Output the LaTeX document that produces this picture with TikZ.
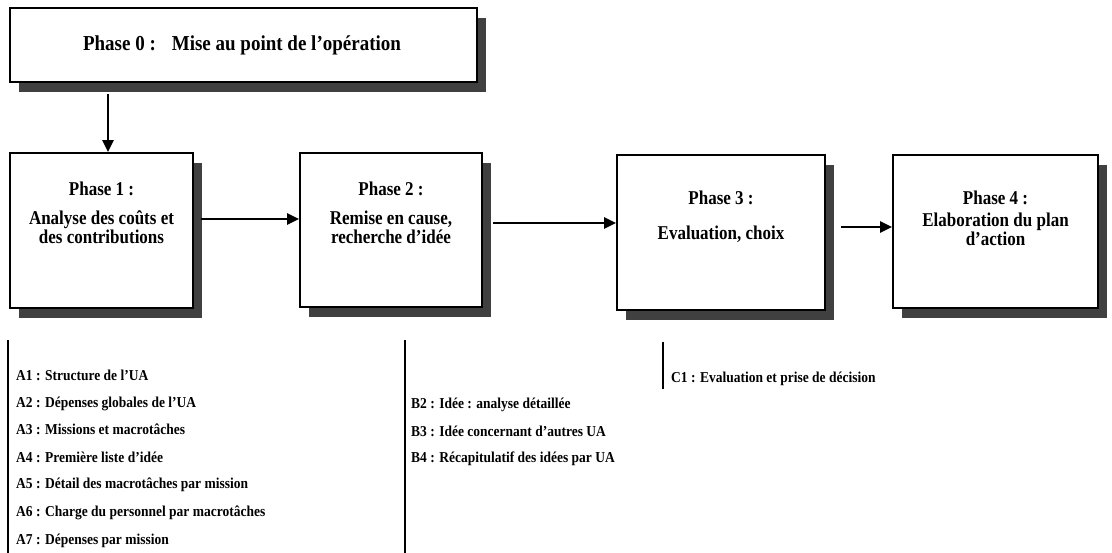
\documentclass[tikz,border=0pt]{standalone}
\usepackage{fontspec}
\setmainfont{Liberation Serif}
\usetikzlibrary{arrows.meta,positioning,shadows}

\begin{document}
\begin{tikzpicture}[x=1pt,y=-1pt]
\tikzstyle{every node}+=[inner sep=0pt]
\tikzstyle{phasebox}=[draw=black,line width=1.7pt,fill=white,
  drop shadow={shadow xshift=9pt,shadow yshift=-10pt,fill=black!75,opacity=1}]
\tikzstyle{phasetext}=[align=center,font=\fontsize{17}{16}\selectfont\bfseries,yscale=1.15,transform shape]
\tikzstyle{flow}=[line width=2.2pt,-{Triangle[length=12pt,width=11pt]}]
\tikzstyle{bar}=[line width=1.6pt]
\tikzstyle{item}=[anchor=base west,font=\fontsize{13.5}{15}\selectfont\bfseries,yscale=1.12,transform shape]
\useasboundingbox [fill=white] (0,0) rectangle (1112,553);
% phase 0
\node [phasebox,minimum width=467,minimum height=74] (p0) at (243.5,45) {};
\node [font=\fontsize{19}{20}\selectfont\bfseries,yscale=1.12,transform shape] (p0t) at (242,45) {Phase 0 :\hspace{16pt}Mise au point de l'opération};
% phases 1 to 4
\node [phasebox,minimum width=183,minimum height=155] (p1) at (101.5,230.5) {};
\node [phasetext,anchor=north] (p1t) at ([yshift=-30pt]p1.north) {Phase 1 :\\[9pt]Analyse des coûts et\\des contributions};
\node [phasebox,minimum width=182,minimum height=154] (p2) at (391,230) {};
\node [phasetext,anchor=north] (p2t) at ([yshift=-30pt]p2.north) {Phase 2 :\\[9pt]Remise en cause,\\recherche d'idée};
\node [phasebox,minimum width=208,minimum height=155] (p3) at (721,232.5) {};
\node [phasetext,anchor=north] (p3t) at ([yshift=-37pt]p3.north) {Phase 3 :\\[14pt]Evaluation, choix};
\node [phasebox,minimum width=205,minimum height=153] (p4) at (995.5,231.5) {};
\node [phasetext,anchor=north] (p4t) at ([yshift=-37pt]p4.north) {Phase 4 :\\[3pt]Elaboration du plan\\d'action};
% arrows
\draw [flow] ([xshift=6.5pt]p1.north |- p0.south) ++(0,11) -- ([xshift=6.5pt]p1.north);
\draw [flow] ([xshift=7pt,yshift=11.5pt]p1.east) -- ([yshift=11.5pt]p1.east -| p2.west);
\draw [flow] ([xshift=10pt,yshift=7pt]p2.east) -- ([yshift=7pt]p2.east -| p3.west);
\draw [flow] ([xshift=15pt,yshift=5.5pt]p3.east) -- ([yshift=5.5pt]p3.east -| p4.west);
% lists
\draw [bar] (8,340) -- (8,553);
\draw [bar] (405,340) -- (405,553);
\draw [bar] (663,342) -- (663,389);
\node [item] (a1) at (16,381) {A1 : Structure de l'UA};
\node [item] (a2) at (16,408) {A2 : Dépenses globales de l'UA};
\node [item] (a3) at (16,435) {A3 : Missions et macrotâches};
\node [item] (a4) at (16,462) {A4 : Première liste d'idée};
\node [item] (a5) at (16,489) {A5 : Détail des macrotâches par mission};
\node [item] (a6) at (16,516) {A6 : Charge du personnel par macrotâches};
\node [item] (a7) at (16,544) {A7 : Dépenses par mission};
\node [item] (b2) at (411,409) {B2 : Idée : analyse détaillée};
\node [item] (b3) at (411,436) {B3 : Idée concernant d'autres UA};
\node [item] (b4) at (411,463) {B4 : Récapitulatif des idées par UA};
\node [item] (c1) at (671,383) {C1 : Evaluation et prise de décision};
\end{tikzpicture}
\end{document}
